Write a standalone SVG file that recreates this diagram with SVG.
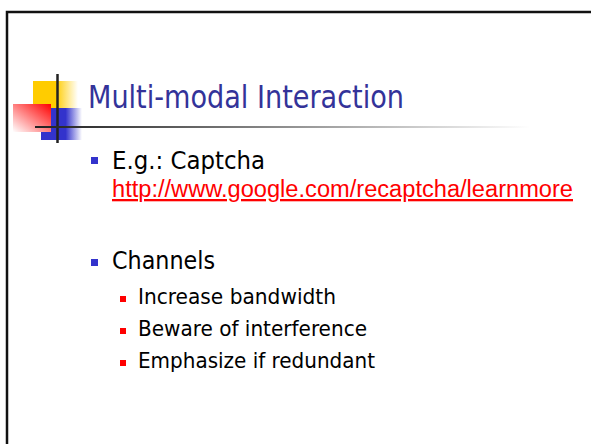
<svg xmlns="http://www.w3.org/2000/svg" width="591" height="444" viewBox="0 0 591 444">
  <defs>
    <linearGradient id="gradYellow" x1="0" y1="0" x2="1" y2="0">
      <stop offset="0" stop-color="#FFCC00"/>
      <stop offset="0.5" stop-color="#FFCC00"/>
      <stop offset="1" stop-color="#FFFFFF"/>
    </linearGradient>
    <linearGradient id="gradBlue" x1="0" y1="0" x2="1" y2="0">
      <stop offset="0" stop-color="#3333CC"/>
      <stop offset="0.6" stop-color="#3333CC"/>
      <stop offset="1" stop-color="#FFFFFF"/>
    </linearGradient>
    <linearGradient id="gradRed" x1="1" y1="0" x2="0" y2="1">
      <stop offset="0" stop-color="#FF0000"/>
      <stop offset="1" stop-color="#FFFFFF"/>
    </linearGradient>
    <linearGradient id="gradRule" gradientUnits="userSpaceOnUse" x1="35" y1="0" x2="530" y2="0">
      <stop offset="0" stop-color="#222222"/>
      <stop offset="0.1" stop-color="#333333"/>
      <stop offset="1" stop-color="#FFFFFF"/>
    </linearGradient>
  </defs>
  <style>
    .body { font-family: "DejaVu Sans Condensed", "DejaVu Sans", sans-serif; fill: #000000; }
    .title { font-family: "DejaVu Sans Condensed", "DejaVu Sans", sans-serif; fill: #333399; font-size: 32px; }
    .lvl1 { font-size: 25px; }
    .lvl2 { font-size: 21.5px; }
    .link { font-family: "Liberation Sans", Arial, sans-serif; font-size: 23px; fill: #FF0000; text-decoration: underline; }
    .b1 { fill: #3333CC; }
    .b2 { fill: #FF0000; }
  </style>

  <rect width="591" height="444" fill="#FFFFFF"/>

  <!-- slide frame -->
  <rect x="7" y="12" width="600" height="450" fill="none" stroke="#111111" stroke-width="2.5"/>

  <!-- title ornament -->
  <g id="ornament">
    <rect x="33" y="81" width="45" height="27" fill="url(#gradYellow)"/>
    <rect x="41" y="108" width="41" height="32" fill="url(#gradBlue)"/>
    <rect x="13" y="104" width="38" height="28" fill="url(#gradRed)"/>
    <line x1="57.5" y1="74" x2="57.5" y2="143" stroke="#222222" stroke-width="2.5"/>
    <line x1="35" y1="127" x2="530" y2="127" stroke="url(#gradRule)" stroke-width="2"/>
  </g>

  <g id="title">
    <text class="title" x="88" y="108" textLength="316" lengthAdjust="spacingAndGlyphs">Multi-modal Interaction</text>
  </g>

  <g id="item-captcha">
    <rect class="b1" x="91" y="157" width="7" height="7"/>
    <text class="body lvl1" x="112" y="169" textLength="153" lengthAdjust="spacingAndGlyphs">E.g.: Captcha</text>
    <text class="link" x="112" y="197" textLength="461" lengthAdjust="spacingAndGlyphs">http://www.google.com/recaptcha/learnmore</text>
  </g>

  <g id="item-channels">
    <rect class="b1" x="91" y="259" width="7" height="7"/>
    <text class="body lvl1" x="112" y="269" textLength="103" lengthAdjust="spacingAndGlyphs">Channels</text>
  </g>

  <g id="sub-bandwidth">
    <rect class="b2" x="120" y="296" width="6" height="6"/>
    <text class="body lvl2" x="138" y="304" textLength="198" lengthAdjust="spacingAndGlyphs">Increase bandwidth</text>
  </g>

  <g id="sub-interference">
    <rect class="b2" x="120" y="328" width="6" height="6"/>
    <text class="body lvl2" x="138" y="336" textLength="229" lengthAdjust="spacingAndGlyphs">Beware of interference</text>
  </g>

  <g id="sub-redundant">
    <rect class="b2" x="120" y="360" width="6" height="6"/>
    <text class="body lvl2" x="138" y="368" textLength="237" lengthAdjust="spacingAndGlyphs">Emphasize if redundant</text>
  </g>
</svg>
